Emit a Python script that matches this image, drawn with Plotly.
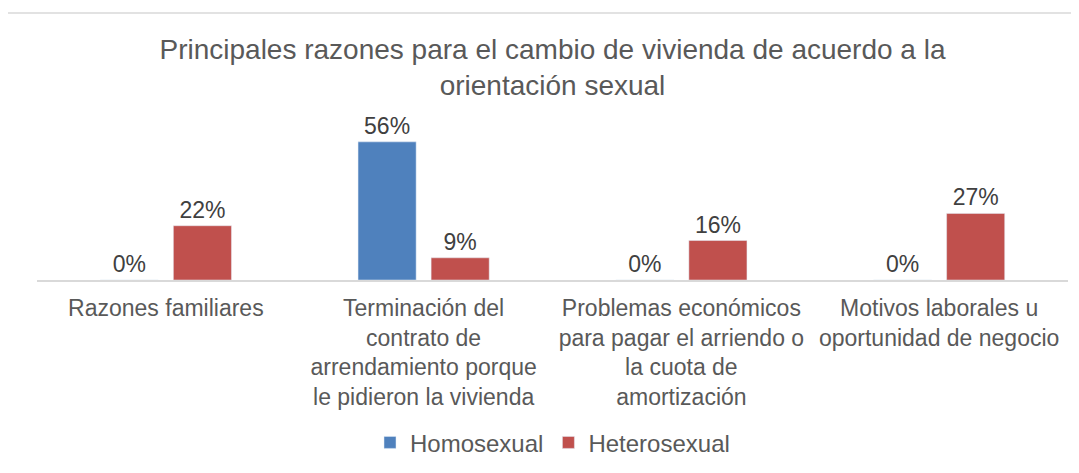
import plotly.graph_objs as go

categorias = [
    "Razones familiares",
    "Terminación del<br>contrato de<br>arrendamiento porque<br>le pidieron la vivienda",
    "Problemas económicos<br>para pagar el arriendo o<br>la cuota de<br>amortización",
    "Motivos laborales u<br>oportunidad de negocio",
]
homosexual = [0.0, 0.56, 0.0, 0.0]
heterosexual = [0.22, 0.09, 0.16, 0.27]

fuente = "Liberation Sans, Arial, sans-serif"

trace = go.Bar(x=categorias, y=homosexual, name="Homosexual",
               marker={"color": "#4F81BD"},
               texttemplate="%{y:.0%}", textposition="outside",
               textfont={"size": 23, "color": "#404040"}, cliponaxis=False)
trace1 = go.Bar(x=categorias, y=heterosexual, name="Heterosexual",
                marker={"color": "#C0504D"},
                texttemplate="%{y:.0%}", textposition="outside",
                textfont={"size": 23, "color": "#404040"}, cliponaxis=False)

# the page body adds an 8px offset, margins are corrected for it
layout = go.Layout(
    width=1079, height=473,
    font={"family": fuente, "size": 23, "color": "#595959"},
    title={"text": "Principales razones para el cambio de vivienda de acuerdo a la<br>orientación sexual",
           "font": {"size": 28, "color": "#595959"},
           "x": 0.5, "xref": "paper", "xanchor": "center",
           "y": 0.893, "yref": "container", "yanchor": "top"},
    margin={"l": 29, "r": 19, "t": 124, "b": 201},
    barmode="group", bargap=0.433, bargroupgap=0.205,
    xaxis={"showline": True, "linecolor": "#D9D9D9", "linewidth": 2,
           "tickangle": 0, "ticks": "", "ticklabelstandoff": 6,
           "tickfont": {"size": 23, "color": "#595959"}},
    yaxis={"visible": False, "range": [0, 0.6], "showgrid": False},
    showlegend=True,
    legend={"orientation": "h", "x": 0.5, "xanchor": "center",
            "y": -1.10, "yanchor": "middle",
            "font": {"size": 24, "color": "#595959"}},
    plot_bgcolor="white", paper_bgcolor="white",
    shapes=[{"type": "rect", "xref": "paper", "yref": "paper",
             "x0": -0.029, "x1": 1.03, "y0": -1.4, "y1": 1.804,
             "line": {"color": "#D9D9D9", "width": 1.5}}],
)
figure = go.Figure(data=[trace, trace1], layout=layout)
figure.write_html("out.html")
